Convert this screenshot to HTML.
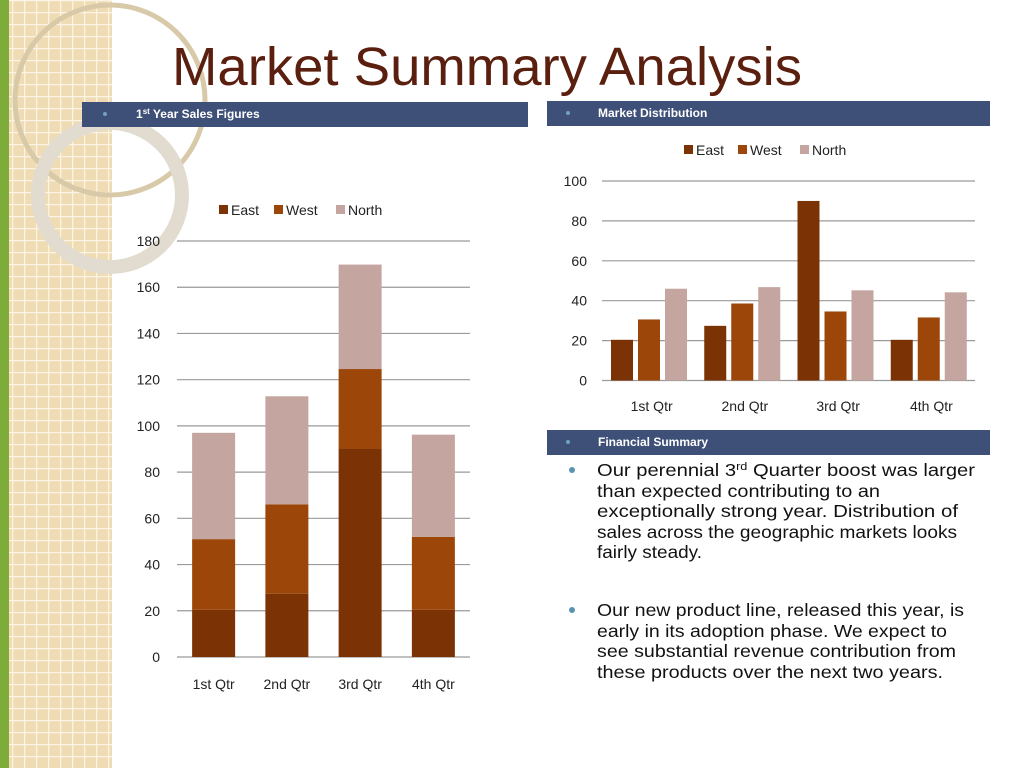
<!DOCTYPE html>
<html><head><meta charset="utf-8"><style>
html,body{margin:0;padding:0;background:#fff;}
svg{display:block;font-family:"Liberation Sans",sans-serif;}
</style></head><body>
<svg id="s" width="1024" height="768" viewBox="0 0 1024 768" xmlns="http://www.w3.org/2000/svg">
<defs>
<pattern id="grid" width="12" height="12" patternUnits="userSpaceOnUse">
<rect width="12" height="12" fill="#efdcb4"/>
<path d="M0 0.5H12M0.5 0V12" stroke="#fbf4e4" stroke-width="1.5"/>
</pattern>
</defs>
<g>
<rect x="0" y="0" width="112" height="768" fill="url(#grid)"/>
<rect x="0" y="0" width="9" height="768" fill="#7dac3a"/>
<circle cx="110" cy="100" r="95" fill="none" stroke="#d8c9a8" stroke-width="5"/>
<circle cx="110" cy="195" r="72" fill="none" stroke="#e2dcd0" stroke-width="14"/>
</g>
<text x="172" y="85" font-size="54" fill="#5b1f0f" textLength="630" lengthAdjust="spacingAndGlyphs">Market Summary Analysis</text>

<g>
<rect x="82" y="102" width="446" height="25" fill="#3e5078"/>
<circle cx="105" cy="114" r="2" fill="#6fa3b8"/>
<text x="136" y="118" font-size="12" font-weight="bold" fill="#fff">1<tspan font-size="8" dy="-4">st</tspan><tspan dy="4"> Year Sales Figures</tspan></text>
</g>
<g>
<rect x="547" y="101" width="443" height="25" fill="#3e5078"/>
<circle cx="568" cy="113" r="2" fill="#6fa3b8"/>
<text x="598" y="117" font-size="12" font-weight="bold" fill="#fff">Market Distribution</text>
</g>
<g>
<rect x="547" y="430" width="443" height="25" fill="#3e5078"/>
<circle cx="568" cy="442" r="2" fill="#6fa3b8"/>
<text x="598" y="446" font-size="12" font-weight="bold" fill="#fff">Financial Summary</text>
</g>

<g id="stacked"></g>
<g id="grouped"></g>

<g font-size="17.5" fill="#111">
<circle cx="572" cy="470" r="3" fill="#5a93b0"/>
<text x="597" y="476" textLength="378" lengthAdjust="spacingAndGlyphs">Our perennial 3<tspan font-size="11" dy="-6">rd</tspan><tspan dy="6"> Quarter boost was larger</tspan></text>
<text x="597" y="497" textLength="283" lengthAdjust="spacingAndGlyphs">than expected contributing to an</text>
<text x="597" y="517" textLength="361" lengthAdjust="spacingAndGlyphs">exceptionally strong year. Distribution of</text>
<text x="597" y="538" textLength="360" lengthAdjust="spacingAndGlyphs">sales across the geographic markets looks</text>
<text x="597" y="558" textLength="105" lengthAdjust="spacingAndGlyphs">fairly steady.</text>
<circle cx="572" cy="610" r="3" fill="#5a93b0"/>
<text x="597" y="616" textLength="367" lengthAdjust="spacingAndGlyphs">Our new product line, released this year, is</text>
<text x="597" y="637" textLength="350" lengthAdjust="spacingAndGlyphs">early in its adoption phase. We expect to</text>
<text x="597" y="657" textLength="359" lengthAdjust="spacingAndGlyphs">see substantial revenue contribution from</text>
<text x="597" y="678" textLength="346" lengthAdjust="spacingAndGlyphs">these products over the next two years.</text>
</g>
</svg>
<script>
const categories = ["1st Qtr","2nd Qtr","3rd Qtr","4th Qtr"];
const seriesNames = ["East","West","North"];
const eastValues = [20.4, 27.4, 90, 20.4];
const westValues = [30.6, 38.6, 34.6, 31.6];
const northValues = [46, 46.8, 45.2, 44.2];
const stackedTicks = [0,20,40,60,80,100,120,140,160,180];
const groupedTicks = [0,20,40,60,80,100];
const colors = ["#7b3306","#9c4709","#c4a59f"];
const NS = "http://www.w3.org/2000/svg";
function mk(parent, tag, attrs, txt){
  const e = document.createElementNS(NS, tag);
  for (const k in attrs) e.setAttribute(k, attrs[k]);
  if (txt !== undefined) e.textContent = txt;
  parent.appendChild(e);
  return e;
}
const series = [eastValues, westValues, northValues];

// stacked chart
(function(){
  const g = document.getElementById('stacked');
  const x0 = 177, x1 = 470, yBase = 657, yTop = 241, vmax = 180;
  const y = v => yBase - (v / vmax) * (yBase - yTop);
  const bw = (x1 - x0) / categories.length;
  stackedTicks.forEach(t => {
    const l = mk(g, 'line', {x1:x0, x2:x1, y1:y(t), y2:y(t), stroke:'#9a9a9a', 'stroke-width':1.2});
    
    
    const tx = mk(g, 'text', {x:160, y:y(t)+5, 'font-size':14, fill:'#222', 'text-anchor':'end'}, String(t));
    
    
  });
  categories.forEach((c, i) => {
    let acc = 0;
    const bx = x0 + i * bw + (bw - 43) / 2;
    series.forEach((s, j) => {
      const r = mk(g, 'rect', {x:bx, y:y(acc + s[i]), width:43, height:y(acc) - y(acc + s[i]), fill:colors[j]});
      
      
      acc += s[i];
    });
    const t = mk(g, 'text', {x:x0 + i * bw + bw / 2, y:689, 'font-size':14, fill:'#222', 'text-anchor':'middle'}, c);
    
    
  });
  const lx = [219, 274, 336];
  seriesNames.forEach((n, j) => {
    const sw = mk(g, 'rect', {x:lx[j], y:205, width:9, height:9, fill:colors[j]});
    
    
    const t = mk(g, 'text', {x:lx[j] + 12, y:215, 'font-size':14, fill:'#222'}, n);
    
    
  });
})();

// grouped chart
(function(){
  const g = document.getElementById('grouped');
  const x0 = 602, x1 = 975, yBase = 380.5, yTop = 181, vmax = 100;
  const y = v => yBase - (v / vmax) * (yBase - yTop);
  const cw = (x1 - x0) / categories.length;
  groupedTicks.forEach(t => {
    const l = mk(g, 'line', {x1:x0, x2:x1, y1:y(t), y2:y(t), stroke:'#9a9a9a', 'stroke-width':1.2});
    
    
    const tx = mk(g, 'text', {x:587, y:y(t)+5, 'font-size':14, fill:'#222', 'text-anchor':'end'}, String(t));
    
    
  });
  categories.forEach((c, i) => {
    const gx = x0 + i * cw + 9;
    series.forEach((s, j) => {
      const r = mk(g, 'rect', {x:gx + j * 27, y:y(s[i]), width:22, height:yBase - y(s[i]), fill:colors[j]});
      
      
    });
    const t = mk(g, 'text', {x:x0 + i * cw + cw / 2 + 3, y:411, 'font-size':14, fill:'#222', 'text-anchor':'middle'}, c);
    
    
  });
  const lx = [684, 738, 800];
  seriesNames.forEach((n, j) => {
    const sw = mk(g, 'rect', {x:lx[j], y:145, width:9, height:9, fill:colors[j]});
    
    
    const t = mk(g, 'text', {x:lx[j] + 12, y:155, 'font-size':14, fill:'#222'}, n);
    
    
  });
})();
</script>
</body></html>
